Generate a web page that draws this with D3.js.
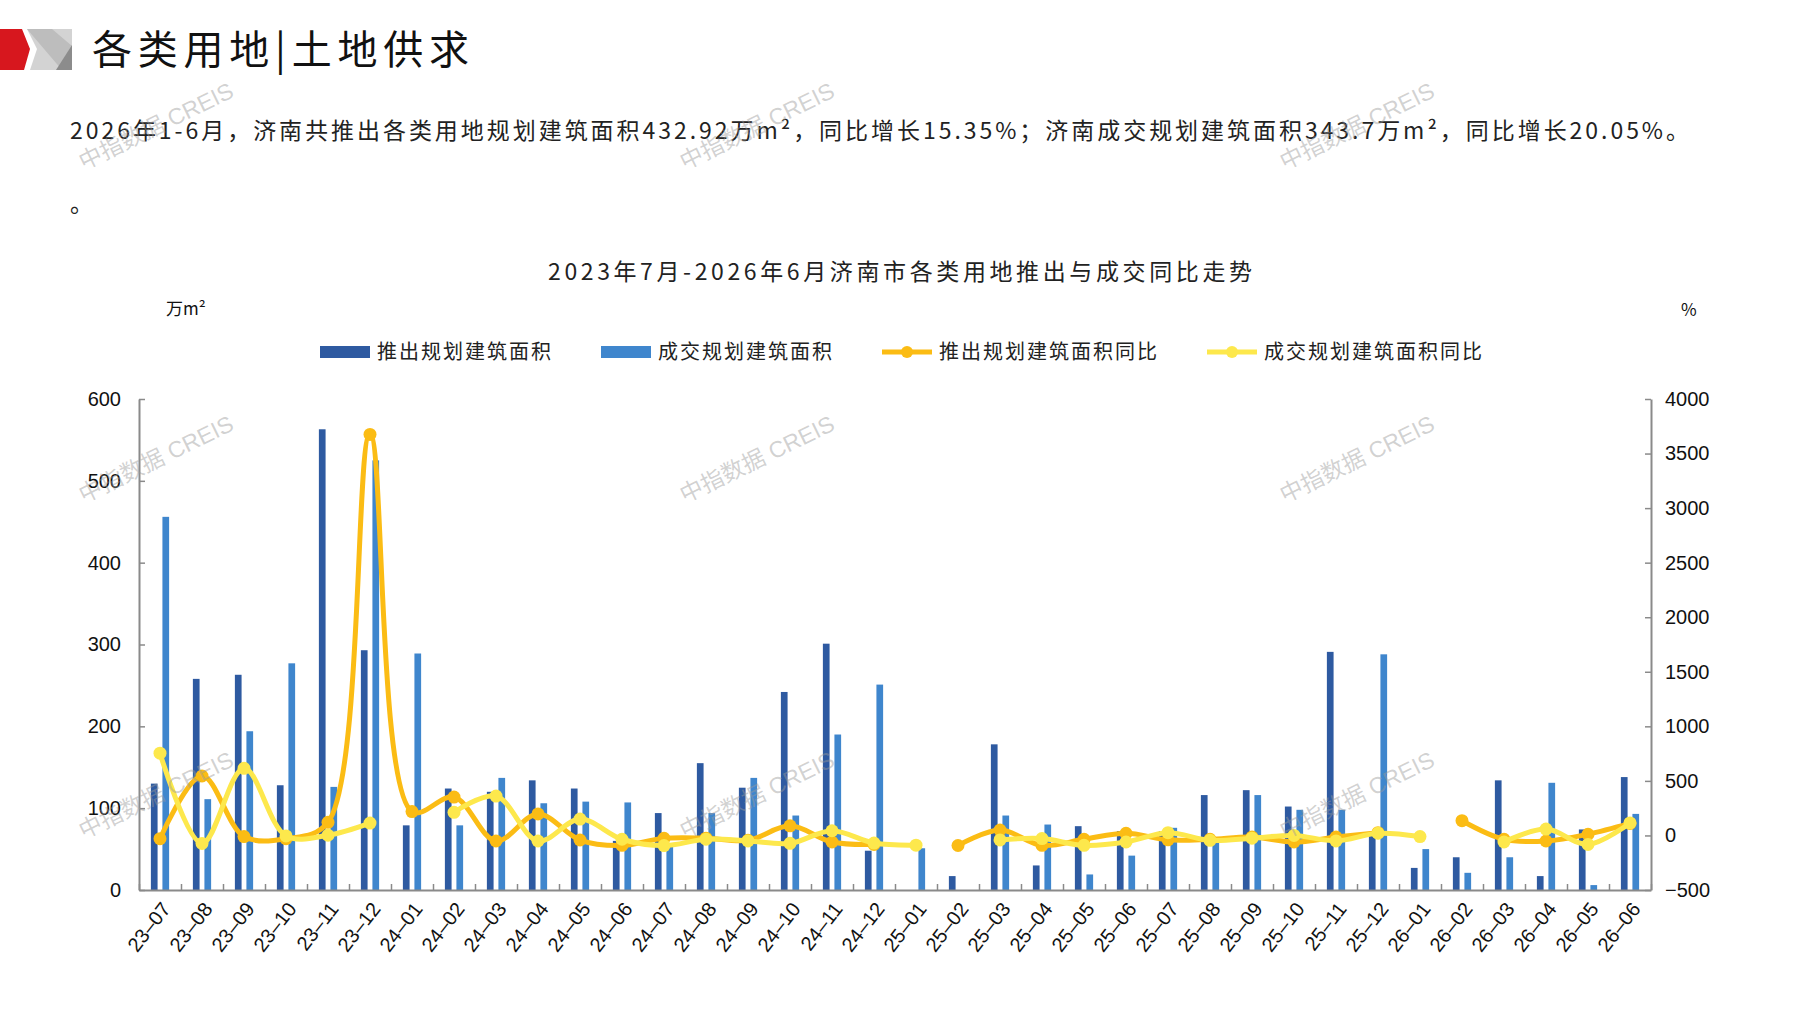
<!DOCTYPE html>
<html>
<head>
<meta charset="utf-8">
<title>各类用地|土地供求</title>
<script src="https://cdn.jsdelivr.net/npm/d3@7/dist/d3.min.js"></script>
<style>
	body { margin: 0; background: #ffffff; }
	svg { display: block; }
</style>
</head>
<body>
<svg id="chart" width="1797" height="1010"></svg>
<script>
// ---- data ----
var months = [ "23-07", "23-08", "23-09", "23-10", "23-11", "23-12", "24-01",
		"24-02", "24-03", "24-04", "24-05", "24-06", "24-07", "24-08", "24-09",
		"24-10", "24-11", "24-12", "25-01", "25-02", "25-03", "25-04", "25-05",
		"25-06", "25-07", "25-08", "25-09", "25-10", "25-11", "25-12", "26-01",
		"26-02", "26-03", "26-04", "26-05", "26-06" ];

// 推出规划建筑面积 (万m²)
var pushArea = [ 130, 258, 263, 128, 563, 293, 79, 124, 120, 134, 124, 60, 94,
		155, 125, 242, 301, 48, null, 17, 178, 30, 78, 72, 72, 116, 122, 102,
		291, 68, 27, 40, 134, 17, 74, 138 ];

// 成交规划建筑面积 (万m²)
var dealArea = [ 456, 111, 194, 277, 126, 525, 289, 79, 137, 106, 108, 107, 55,
		94, 137, 91, 190, 251, 51, null, 91, 80, 19, 42, 76, 58, 116, 98, 98,
		288, 50, 21, 40, 131, 6, 93 ];

// 推出规划建筑面积同比 (%)
var pushYoY = [ -30, 545, -10, -30, 120, 3675, 219, 352, -51, 197, -42, -91,
		-26, -25, -45, 88, -60, -82, null, -92, 50, -91, -35, 20, -40, -35, -15,
		-60, -15, 25, null, 135, -35, -51, 11, 110 ];

// 成交规划建筑面积同比 (%)
var dealYoY = [ 754, -73, 615, -4, 2, 113, null, 212, 361, -51, 150, -35, -93,
		-35, -50, -72, 43, -70, -89, null, -41, -29, -91, -60, 25, -45, -25, 0,
		-50, 20, -10, null, -60, 58, -82, 115 ];

var leftTicks = [ 0, 100, 200, 300, 400, 500, 600 ];
var rightTicks = [ -500, 0, 500, 1000, 1500, 2000, 2500, 3000, 3500, 4000 ];

var seriesNames = [ "推出规划建筑面积", "成交规划建筑面积", "推出规划建筑面积同比", "成交规划建筑面积同比" ];

var headline = "各类用地|土地供求";
var summary = "2026年1-6月，济南共推出各类用地规划建筑面积432.92万m²，同比增长15.35%；济南成交规划建筑面积343.7万m²，同比增长20.05%。";
var chartTitle = "2023年7月-2026年6月济南市各类用地推出与成交同比走势";
var leftUnit = "万m²";
var rightUnit = "%";
var watermark = "中指数据 CREIS";

// ---- styles ----
var CJK_FONT = "'Noto Sans CJK SC', 'Noto Sans', sans-serif";
var NUM_FONT = "'Liberation Sans', Arial, 'Noto Sans CJK SC', sans-serif";
var DARK_BLUE = "#2e5aa1";
var LIGHT_BLUE = "#3f86cd";
var ORANGE = "#fbbc14";
var YELLOW = "#fde84c";
var AXIS_GREY = "#8a8a8a";

var svg = d3.select("#chart");

var plot = {
	left : 139,
	right : 1651,
	top : 399,
	bottom : 890
};

var rows = months.map(function(m, i) {
	return {
		month : m,
		push : pushArea[i],
		deal : dealArea[i],
		pushYoY : pushYoY[i],
		dealYoY : dealYoY[i]
	};
});

// ---- scales ----
var x = d3.scaleBand().domain(months).range([ plot.left, plot.right ]);

var xSub = d3.scaleBand().domain([ "push", "deal" ]) //
.range([ 0, x.bandwidth() ]) //
.paddingInner(0.42) //
.paddingOuter(1.03);

var xEdges = d3.scaleLinear().domain([ 0, months.length ]).range(
		[ plot.left, plot.right ]);

var yLeft = d3.scaleLinear().domain([ 0, 600 ]).range(
		[ plot.bottom, plot.top ]);
var yRight = d3.scaleLinear().domain([ -500, 4000 ]).range(
		[ plot.bottom, plot.top ]);

function center(d) {
	return (x(d.month) + x.bandwidth() / 2);
}// END: center

// ---- header ----
function drawHeader() {

	var logo = svg.append("g").attr("class", "logo");

	logo.append("polygon") //
	.attr("points", "0,29 22,29 30,49 24,70 0,70") //
	.attr("fill", "#d7171e");

	logo.append("polygon") //
	.attr("points", "27,29 72,29 72,70 30,70 37,49") //
	.attr("fill", "#d3d3d3");

	logo.append("polygon") //
	.attr("points", "27,29 52,29 72,46 72,70 62,70") //
	.attr("fill", "#bdbdbd");

	logo.append("polygon") //
	.attr("points", "72,45 72,70 56,70") //
	.attr("fill", "#8c8c8c");

	svg.append("text") //
	.attr("x", 92) //
	.attr("y", 64) //
	.attr("textLength", 377) //
	.attr("lengthAdjust", "spacing") //
	.style("font-family", CJK_FONT) //
	.style("font-size", "40px") //
	.attr("fill", "#111") //
	.text(headline);

	svg.append("text") //
	.attr("x", 70) //
	.attr("y", 139) //
	.attr("textLength", 1619) //
	.attr("lengthAdjust", "spacing") //
	.style("font-family", CJK_FONT) //
	.style("font-size", "23px") //
	.attr("fill", "#222") //
	.text(summary);

	svg.append("text") //
	.attr("x", 70) //
	.attr("y", 212) //
	.style("font-family", CJK_FONT) //
	.style("font-size", "23px") //
	.attr("fill", "#222") //
	.text("。");

	svg.append("text") //
	.attr("x", (plot.left + plot.right) / 2 + 5) //
	.attr("y", 280) //
	.attr("text-anchor", "middle") //
	.attr("textLength", 704) //
	.attr("lengthAdjust", "spacing") //
	.style("font-family", CJK_FONT) //
	.style("font-size", "23px") //
	.attr("fill", "#222") //
	.text(chartTitle);

	svg.append("text") //
	.attr("x", 166) //
	.attr("y", 315) //
	.style("font-family", CJK_FONT) //
	.style("font-size", "17px") //
	.attr("fill", "#111") //
	.text(leftUnit);

	svg.append("text") //
	.attr("x", 1681) //
	.attr("y", 316) //
	.style("font-family", CJK_FONT) //
	.style("font-size", "17px") //
	.attr("fill", "#111") //
	.text(rightUnit);

}// END: drawHeader

// ---- legend ----
function drawLegend() {

	var legend = svg.append("g").attr("class", "legend");
	var colors = [ DARK_BLUE, LIGHT_BLUE, ORANGE, YELLOW ];
	var cy = 352;
	var cursor = 0;

	seriesNames.forEach(function(name, i) {

		var item = legend.append("g").attr("transform",
				"translate(" + cursor + ",0)");

		if (i < 2) {
			item.append("rect") //
			.attr("x", 0) //
			.attr("y", cy - 6) //
			.attr("width", 50) //
			.attr("height", 12) //
			.attr("fill", colors[i]);
		} else {
			item.append("line") //
			.attr("x1", 0) //
			.attr("x2", 50) //
			.attr("y1", cy) //
			.attr("y2", cy) //
			.attr("stroke", colors[i]) //
			.attr("stroke-width", 5);
			item.append("circle") //
			.attr("cx", 25) //
			.attr("cy", cy) //
			.attr("r", 6) //
			.attr("fill", colors[i]);
		}

		var label = item.append("text") //
		.attr("x", 57) //
		.attr("y", cy + 7) //
		.style("font-family", CJK_FONT) //
		.style("font-size", "20px") //
		.style("letter-spacing", "2px") //
		.attr("fill", "#222") //
		.text(name);

		cursor += 57 + label.node().getComputedTextLength() + 48;

	});

	var total = cursor - 48;
	legend.attr("transform", "translate(" + (902 - total / 2) + ",0)");

}// END: drawLegend

// ---- axes ----
function drawAxes() {

	var left = svg.append("g") //
	.attr("transform", "translate(" + plot.left + ",0)") //
	.call(d3.axisLeft(yLeft).tickValues(leftTicks).tickSize(-6).tickSizeOuter(0).tickPadding(18));

	var right = svg.append("g") //
	.attr("transform", "translate(" + plot.right + ",0)") //
	.call(d3.axisRight(yRight).tickValues(rightTicks).tickFormat(d3.format("d")).tickSize(-6).tickSizeOuter(0).tickPadding(14));

	var bottom = svg.append("g") //
	.attr("transform", "translate(0," + plot.bottom + ")") //
	.call(d3.axisBottom(xEdges).tickValues(d3.range(months.length + 1)).tickSize(-6).tickSizeOuter(0).tickFormat(""));

	[ left, right, bottom ].forEach(function(g) {
		g.select(".domain").attr("stroke", AXIS_GREY).attr("stroke-width", 2);
		g.selectAll(".tick line").attr("stroke", AXIS_GREY).attr("stroke-width", 1.5);
		g.selectAll(".tick text") //
		.attr("fill", "#111") //
		.style("font-family", NUM_FONT) //
		.style("font-size", "20px");
	});

	// month labels, drawn with an en dash like the source
	svg.append("g").attr("class", "x-labels") //
	.selectAll("text").data(months).enter().append("text") //
	.attr("transform", function(d) {
		var cx = x(d) + x.bandwidth() / 2 + 6;
		return ("translate(" + cx + "," + (plot.bottom + 15) + ") rotate(-52)");
	}) //
	.attr("text-anchor", "end") //
	.attr("dy", "0.35em") //
	.style("font-family", NUM_FONT) //
	.style("font-size", "20px") //
	.attr("fill", "#111") //
	.text(function(d) {
		return (d.replace("-", "\u2013"));
	});

}// END: drawAxes

// ---- bars ----
function drawBars() {

	var bars = svg.append("g").attr("class", "bars");

	bars.selectAll("rect.push").data(rows.filter(function(d) {
		return (d.push != null);
	})).enter().append("rect") //
	.attr("class", "push") //
	.attr("x", function(d) {
		return (x(d.month) + xSub("push"));
	}) //
	.attr("y", function(d) {
		return (yLeft(d.push));
	}) //
	.attr("width", xSub.bandwidth()) //
	.attr("height", function(d) {
		return (yLeft(0) - yLeft(d.push));
	}) //
	.attr("fill", DARK_BLUE);

	bars.selectAll("rect.deal").data(rows.filter(function(d) {
		return (d.deal != null);
	})).enter().append("rect") //
	.attr("class", "deal") //
	.attr("x", function(d) {
		return (x(d.month) + xSub("deal"));
	}) //
	.attr("y", function(d) {
		return (yLeft(d.deal));
	}) //
	.attr("width", xSub.bandwidth()) //
	.attr("height", function(d) {
		return (yLeft(0) - yLeft(d.deal));
	}) //
	.attr("fill", LIGHT_BLUE);

}// END: drawBars

// ---- lines ----
function drawLine(key, color) {

	// smoothed like the source chart, centripetal to keep overshoot small
	var line = d3.line() //
	.defined(function(d) {
		return (d[key] != null);
	}) //
	.x(center) //
	.y(function(d) {
		return (yRight(d[key]));
	}) //
	.curve(d3.curveCatmullRom.alpha(0.5));

	var g = svg.append("g").attr("class", "line-" + key);

	g.append("path") //
	.datum(rows) //
	.attr("d", line) //
	.attr("fill", "none") //
	.attr("stroke", color) //
	.attr("stroke-width", 5) //
	.attr("stroke-linejoin", "round") //
	.attr("stroke-linecap", "round");

	g.selectAll("circle").data(rows.filter(function(d) {
		return (d[key] != null);
	})).enter().append("circle") //
	.attr("cx", center) //
	.attr("cy", function(d) {
		return (yRight(d[key]));
	}) //
	.attr("r", 6.5) //
	.attr("fill", color);

}// END: drawLine

// ---- watermark ----
function drawWatermarks() {

	var cols = [ 156, 757, 1357 ];
	var lines = [ 126, 459, 795 ];
	var spots = [];
	lines.forEach(function(wy) {
		cols.forEach(function(wx) {
			spots.push([ wx, wy ]);
		});
	});

	svg.append("g").attr("class", "watermark") //
	.selectAll("text").data(spots).enter().append("text") //
	.attr("transform", function(d) {
		return ("translate(" + d[0] + "," + d[1] + ") rotate(-26)");
	}) //
	.attr("text-anchor", "middle") //
	.attr("dy", "0.35em") //
	.style("font-family", NUM_FONT) //
	.style("font-size", "23px") //
	.attr("fill", "#9a9a9a") //
	.attr("fill-opacity", 0.45) //
	.text(watermark);

}// END: drawWatermarks

drawHeader();
drawLegend();
drawBars();
drawAxes();
drawLine("pushYoY", ORANGE);
drawLine("dealYoY", YELLOW);
drawWatermarks();
</script>
</body>
</html>
